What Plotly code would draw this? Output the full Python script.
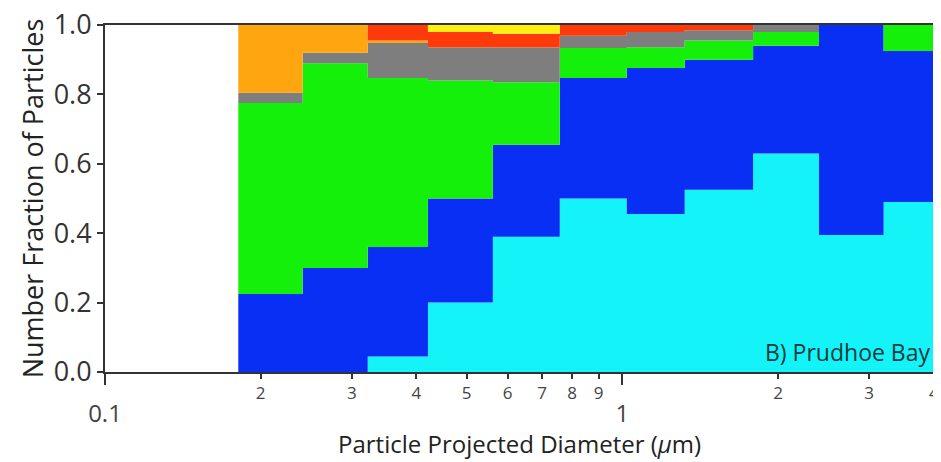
import plotly.graph_objects as go

# bin edges of the size distribution (um)
edges = [0.181, 0.241, 0.322, 0.421, 0.562, 0.757, 1.02, 1.32, 1.79, 2.40, 3.20, 4.0]

# number fraction of each particle class per bin, bottom to top
cyan = [0.0, 0.0, 0.045, 0.20, 0.39, 0.50, 0.455, 0.525, 0.63, 0.395, 0.49]
blue = [0.225, 0.30, 0.315, 0.30, 0.265, 0.347, 0.421, 0.375, 0.31, 0.605, 0.435]
green = [0.55, 0.59, 0.487, 0.34, 0.18, 0.087, 0.06, 0.055, 0.04, 0.0, 0.075]
gray = [0.03, 0.03, 0.101, 0.095, 0.10, 0.035, 0.044, 0.03, 0.02, 0.0, 0.0]
orange = [0.195, 0.08, 0.007, 0.0, 0.0, 0.0, 0.0, 0.0, 0.0, 0.0, 0.0]
red = [0.0, 0.0, 0.045, 0.045, 0.04, 0.031, 0.02, 0.015, 0.0, 0.0, 0.0]
yellow = [0.0, 0.0, 0.0, 0.02, 0.025, 0.0, 0.0, 0.0, 0.0, 0.0, 0.0]

series = [
    ("cyan", cyan, "#14F4F8"),
    ("blue", blue, "#0A2FF4"),
    ("green", green, "#14F00A"),
    ("gray", gray, "#7E7E7E"),
    ("orange", orange, "#FFA510"),
    ("red", red, "#FF3A0A"),
    ("yellow", yellow, "#FFEE10"),
]

tick_vals = [0.1, 0.2, 0.3, 0.4, 0.5, 0.6, 0.7, 0.8, 0.9, 1, 2, 3, 4]
tick_text = ["<br><span style='font-size:24px'>0.1</span>", "2", "3", "4", "5", "6", "7", "8", "9",
             "<br><span style='font-size:24px'>1</span>", "2", "3", "4"]

fig = go.Figure()
for name, vals, col in series:
    fig.add_trace(go.Scatter(
        x=edges, y=vals + [vals[-1]], name=name, mode="lines",
        line=dict(shape="hv", width=0, color=col),
        fillcolor=col, stackgroup="one", showlegend=False))

fig.add_annotation(x=0.997, y=0.005, xref="paper", yref="paper", xanchor="right", yanchor="bottom",
                   text="B) Prudhoe Bay", showarrow=False,
                   font=dict(family="Open Sans", size=23, color="#0B3A40"))

# x axis title placed by hand so it is not pushed off the bottom
fig.add_annotation(x=0.5, y=-0.205, xref="paper", yref="paper", xanchor="center", yanchor="middle",
                   text="Particle Projected Diameter (<i>µ</i>m)", showarrow=False,
                   font=dict(family="Open Sans", size=24, color="#222222"))

# the page body adds 8px, so margins are shifted to compensate
fig.update_layout(
    width=941, height=462,
    margin=dict(l=97, r=15, t=17, b=98),
    paper_bgcolor="white", plot_bgcolor="white",
    font=dict(family="Open Sans", color="#333333"),
)
fig.update_xaxes(
    type="log", range=[-1, 0.6025], tickmode="array", tickvals=tick_vals, ticktext=tick_text,
    ticks="outside", ticklen=5, tickwidth=2, tickcolor="#333333",
    tickfont=dict(size=17, color="#444444"), ticklabeloverflow="allow",
    minor=dict(tickmode="array", tickvals=[0.1, 1], ticks="outside", ticklen=11, tickwidth=2,
               tickcolor="#333333"),
    showgrid=False, showline=True, linewidth=2, linecolor="#333333", mirror=True, automargin=False,
)
fig.update_yaxes(
    range=[0, 1], tickvals=[0, 0.2, 0.4, 0.6, 0.8, 1.0], tickformat=".1f",
    ticks="outside", ticklen=6, tickwidth=2, tickcolor="#333333",
    tickfont=dict(size=27, color="#333333"), ticklabeloverflow="allow",
    showgrid=False, showline=True, linewidth=2, linecolor="#333333", mirror=True, zeroline=False,
    automargin=False,
    title=dict(text="Number Fraction of Particles", font=dict(size=27, color="#222222"), standoff=2),
)

fig.write_html("out.html")
